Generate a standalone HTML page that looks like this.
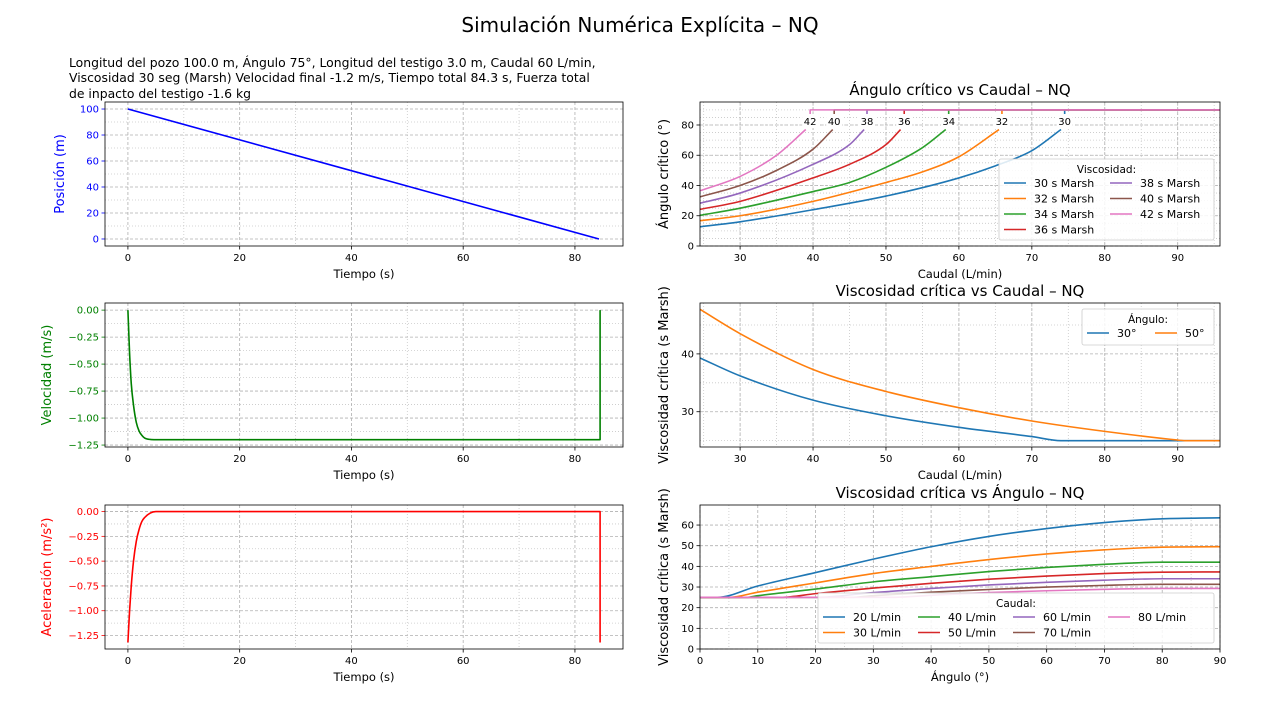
<!DOCTYPE html>
<html><head><meta charset="utf-8">
<style>
html,body{margin:0;padding:0;background:#fff;}
body{width:1280px;height:703px;overflow:hidden;font-family:"DejaVu Sans","Liberation Sans",sans-serif;}
#sub{position:absolute;left:69px;top:55px;font-size:12.4px;line-height:15.3px;color:#000;width:560px;}
#title{position:absolute;left:0;width:1280px;top:13px;text-align:center;font-size:20px;}
svg{position:absolute;left:0;top:0;}
</style></head>
<body>
<div id="title">Simulación Numérica Explícita – NQ</div>
<div id="sub">Longitud del pozo 100.0 m, Ángulo 75°, Longitud del testigo 3.0 m, Caudal 60 L/min,<br>Viscosidad 30 seg (Marsh) Velocidad final -1.2 m/s, Tiempo total 84.3 s, Fuerza total<br>de inpacto del testigo -1.6 kg</div>
<svg id="fig" width="1280" height="703" xmlns="http://www.w3.org/2000/svg"></svg>
<script>
// ---- data ----
const posT = [0, 84.3];
const posV = [100, 0];
const velT = [0, 0.3, 0.6, 1, 1.5, 2, 2.5, 3, 4, 5, 84.5, 84.5];
const velV = [0, -0.4, -0.68, -0.88, -1.04, -1.12, -1.16, -1.185, -1.198, -1.2, -1.2, 0];
const accT = [0, 0.3, 0.6, 1, 1.5, 2, 2.5, 3, 4, 5, 84.5, 84.5];
const accV = [-1.32, -1.0, -0.75, -0.5, -0.3, -0.18, -0.1, -0.06, -0.015, 0, 0, -1.32];

const viscNames = ['30', '32', '34', '36', '38', '40', '42'];
const colors = ['#1f77b4','#ff7f0e','#2ca02c','#d62728','#9467bd','#8c564b','#e377c2'];
const angQ30 = [24.5, 30, 40, 50, 60, 65, 70, 74];
const angV30 = [12.7, 16, 24, 33, 45, 53, 63, 77];
const angQ32 = [24.5, 30, 40, 50, 55, 60, 65.5];
const angV32 = [16.7, 20, 29.5, 42, 49, 59, 77];
const angQ34 = [24.5, 30, 40, 45, 50, 55, 58.2];
const angV34 = [20.3, 25, 36, 42, 52, 65, 77];
const angQ36 = [24.5, 30, 40, 45, 50, 52];
const angV36 = [24.2, 29.5, 45, 54, 67, 77];
const angQ38 = [24.5, 30, 40, 45, 47];
const angV38 = [28.3, 35, 54, 67, 77];
const angQ40 = [24.5, 30, 35, 40, 42.7];
const angV40 = [32.5, 40, 50, 64, 77];
const angQ42 = [24.5, 30, 35, 39];
const angV42 = [36.5, 46, 60, 77];
const critQ = [74.5, 65.9, 58.6, 52.5, 47.4, 42.9, 39.6];

const vqQ = [24.5, 30, 40, 50, 60, 70, 74, 95.8];
const vq30 = [39.3, 36.2, 32, 29.3, 27.3, 25.7, 25, 25];
const vqQ2 = [24.5, 30, 40, 50, 60, 70, 80, 90, 91, 95.8];
const vq50 = [47.7, 43.5, 37.3, 33.5, 30.7, 28.4, 26.6, 25.1, 25, 25];

const caudNames = ['20','30','40','50','60','70','80'];
const angA = [0, 3, 10, 20, 30, 40, 50, 60, 70, 80, 90];
const va20 = [25, 25, 30.5, 37, 43.5, 49.5, 54.5, 58.3, 61.2, 63, 63.5];
const angA30 = [0, 5, 10, 20, 30, 40, 50, 60, 70, 80, 90];
const va30 = [25, 25, 27.5, 32, 36.5, 40, 43.3, 46, 48, 49.3, 49.5];
const angA40 = [0, 8, 10, 20, 30, 40, 50, 60, 70, 80, 90];
const va40 = [25, 25, 25.8, 29, 32.5, 35, 37.5, 39.5, 41, 42, 42];
const angA50 = [0, 14, 20, 30, 40, 50, 60, 70, 80, 90];
const va50 = [25, 25, 26.8, 29.5, 31.8, 33.8, 35.3, 36.5, 37.2, 37.3];
const angA60 = [0, 20, 30, 40, 50, 60, 70, 80, 90];
const va60 = [25, 25, 27.3, 29.3, 31, 32.3, 33.3, 34, 34];
const angA70 = [0, 26, 30, 40, 50, 60, 70, 80, 90];
const va70 = [25, 25, 25.8, 27.5, 28.8, 30, 30.8, 31.3, 31.3];
const angA80 = [0, 33, 40, 50, 60, 70, 80, 90];
const va80 = [25, 25, 26, 27.3, 28.2, 28.9, 29.3, 29.3];

// ---- helpers ----
const NS = 'http://www.w3.org/2000/svg';
const fig = document.getElementById('fig');
function mk(tag, attrs, parent, name, inter) {
  const el = document.createElementNS(NS, tag);
  for (const k in attrs) el.setAttribute(k, attrs[k]);
  
  
  (parent || fig).appendChild(el);
  return el;
}
function txt(s, attrs, parent, name) {
  const el = mk('text', Object.assign({'font-size': 10, fill: '#000'}, attrs), parent, name, false);
  el.textContent = s;
  return el;
}
let clipId = 0;
function axes(o) {
  const g = mk('g', {}, fig, o.name, false);
  const sx = v => o.x + (v - o.xmin) / (o.xmax - o.xmin) * o.w;
  const sy = v => o.y + o.h - (v - o.ymin) / (o.ymax - o.ymin) * o.h;
  (o.xminor || []).forEach(v => mk('line', {x1: sx(v), x2: sx(v), y1: o.y, y2: o.y + o.h, stroke: '#c8c8c8', 'stroke-width': 0.8, 'stroke-dasharray': '1,2'}, g, 'x-minor-grid', false));
  (o.yminor || []).forEach(v => mk('line', {x1: o.x, x2: o.x + o.w, y1: sy(v), y2: sy(v), stroke: '#c8c8c8', 'stroke-width': 0.8, 'stroke-dasharray': '1,2'}, g, 'y-minor-grid', false));
  o.xt.forEach(v => mk('line', {x1: sx(v), x2: sx(v), y1: o.y, y2: o.y + o.h, stroke: '#b0b0b0', 'stroke-width': 0.8, 'stroke-dasharray': '3,2'}, g, 'x-major-grid', false));
  o.yt.forEach(v => mk('line', {x1: o.x, x2: o.x + o.w, y1: sy(v), y2: sy(v), stroke: '#b0b0b0', 'stroke-width': 0.8, 'stroke-dasharray': '3,2'}, g, 'y-major-grid', false));
  const tc = o.tickColor || '#000';
  o.xt.forEach((v, i) => {
    mk('line', {x1: sx(v), x2: sx(v), y1: o.y + o.h, y2: o.y + o.h + 3.5, stroke: '#000', 'stroke-width': 0.8}, g, 'x-tick', false);
    txt(o.xtl ? o.xtl[i] : String(v), {x: sx(v), y: o.y + o.h + 15, 'text-anchor': 'middle'}, g, 'x-tick-label');
  });
  o.yt.forEach((v, i) => {
    mk('line', {x1: o.x - 3.5, x2: o.x, y1: sy(v), y2: sy(v), stroke: tc, 'stroke-width': 0.8}, g, 'y-tick', false);
    txt(o.ytl ? o.ytl[i] : String(v), {x: o.x - 6, y: sy(v) + 3.5, 'text-anchor': 'end', fill: tc}, g, 'y-tick-label');
  });
  const id = 'c' + (clipId++);
  const cp = mk('clipPath', {id: id}, g, 'clip', false);
  mk('rect', {x: o.x, y: o.y, width: o.w, height: o.h}, cp, 'clip-rect', false);
  const plot = mk('g', {'clip-path': 'url(#' + id + ')'}, g, 'plot-area', false);
  mk('rect', {x: o.x, y: o.y, width: o.w, height: o.h, fill: 'none', stroke: '#000', 'stroke-width': 0.8}, g, 'axes-frame', false);
  txt(o.xlabel, {x: o.x + o.w / 2, y: o.y + o.h + 32, 'text-anchor': 'middle', 'font-size': 11.5}, g, 'x-axis-title');
  txt(o.ylabel, {x: 0, y: 0, 'text-anchor': 'middle', 'font-size': 13, fill: o.ylabelColor || '#000', transform: 'translate(' + o.ylx + ',' + (o.y + o.h / 2) + ') rotate(-90)'}, g, 'y-axis-title');
  if (o.title) txt(o.title, {x: o.x + o.w / 2, y: o.y - 7, 'text-anchor': 'middle', 'font-size': 15}, g, 'axes-title');
  return {sx, sy, plot, g};
}
// monotone cubic over x-increasing runs; vertical jumps drawn straight
function monoRun(p) {
  const n = p.length;
  if (n < 2) return '';
  if (n === 2) return 'L' + p[1][0].toFixed(2) + ',' + p[1][1].toFixed(2);
  const d = [], m = [];
  for (let i = 0; i < n - 1; i++) d.push((p[i + 1][1] - p[i][1]) / (p[i + 1][0] - p[i][0]));
  m.push(d[0]);
  for (let i = 1; i < n - 1; i++) m.push(d[i - 1] * d[i] <= 0 ? 0 : (d[i - 1] + d[i]) / 2);
  m.push(d[n - 2]);
  for (let i = 0; i < n - 1; i++) {
    if (d[i] === 0) { m[i] = 0; m[i + 1] = 0; continue; }
    const a = m[i] / d[i], b = m[i + 1] / d[i], s = a * a + b * b;
    if (s > 9) { const t = 3 / Math.sqrt(s); m[i] = t * a * d[i]; m[i + 1] = t * b * d[i]; }
  }
  let out = '';
  for (let i = 0; i < n - 1; i++) {
    const h = (p[i + 1][0] - p[i][0]) / 3;
    out += 'C' + (p[i][0] + h).toFixed(2) + ',' + (p[i][1] + m[i] * h).toFixed(2) + ' ' +
      (p[i + 1][0] - h).toFixed(2) + ',' + (p[i + 1][1] - m[i + 1] * h).toFixed(2) + ' ' +
      p[i + 1][0].toFixed(2) + ',' + p[i + 1][1].toFixed(2);
  }
  return out;
}
function line(ax, xs, ys, color, name) {
  const p = xs.map((v, i) => [ax.sx(v), ax.sy(ys[i])]);
  let d = 'M' + p[0][0].toFixed(2) + ',' + p[0][1].toFixed(2);
  let run = [p[0]];
  for (let i = 1; i < p.length; i++) {
    if (Math.abs(p[i][0] - p[i - 1][0]) < 1e-6) {
      d += monoRun(run);
      d += 'L' + p[i][0].toFixed(2) + ',' + p[i][1].toFixed(2);
      run = [p[i]];
    } else run.push(p[i]);
  }
  d += monoRun(run);
  return mk('path', {d: d, fill: 'none', stroke: color, 'stroke-width': 1.6, 'stroke-linejoin': 'round'}, ax.plot, name, false);
}
function range(a, b, s) { const r = []; for (let v = a; v <= b + 1e-9; v += s) r.push(+v.toFixed(4)); return r; }
function legend(ax, x, y, w, h, title, labels, cols, colw, name) {
  const g = mk('g', {}, ax.g, name, false);
  mk('rect', {x: x, y: y, width: w, height: h, rx: 2, fill: '#fff', 'fill-opacity': 0.85, stroke: '#ccc', 'stroke-width': 0.8}, g, 'legend-box', false);
  txt(title, {x: x + w / 2, y: y + 14, 'text-anchor': 'middle', 'font-size': 10.5}, g, 'legend-title');
  const rows = Math.ceil(labels.length / cols);
  labels.forEach((l, i) => {
    const c = Math.floor(i / rows), r = i % rows;
    const lx = x + 5 + c * colw, ly = y + 28 + r * 15.5;
    mk('line', {x1: lx, x2: lx + 22, y1: ly - 4, y2: ly - 4, stroke: colors[i], 'stroke-width': 1.6}, g, 'legend-swatch', false);
    txt(l, {x: lx + 30, y: ly, 'font-size': 11}, g, 'legend-label');
  });
}

// ---- left column ----
const a1 = axes({name: 'position-chart', x: 105, y: 102, w: 518, h: 144, xmin: -4.1, xmax: 88.6, ymin: -5.4, ymax: 105.4,
  xt: [0,20,40,60,80], yt: [0,20,40,60,80,100], xminor: [10,30,50,70], yminor: [10,30,50,70,90],
  xlabel: 'Tiempo (s)', ylabel: 'Posición (m)', ylabelColor: 'blue', tickColor: 'blue', ylx: 64});
line(a1, posT, posV, 'blue', 'position-line');

const a2 = axes({name: 'velocity-chart', x: 105, y: 303, w: 518, h: 144, xmin: -4.1, xmax: 88.6, ymin: -1.268, ymax: 0.066,
  xt: [0,20,40,60,80], yt: [0,-0.25,-0.5,-0.75,-1,-1.25], ytl: ['0.00','−0.25','−0.50','−0.75','−1.00','−1.25'],
  xminor: [10,30,50,70], yminor: [-0.125,-0.375,-0.625,-0.875,-1.125],
  xlabel: 'Tiempo (s)', ylabel: 'Velocidad (m/s)', ylabelColor: 'green', tickColor: 'green', ylx: 51});
line(a2, velT, velV, 'green', 'velocity-line');

const a3 = axes({name: 'acceleration-chart', x: 105, y: 505, w: 518, h: 144, xmin: -4.1, xmax: 88.6, ymin: -1.386, ymax: 0.066,
  xt: [0,20,40,60,80], yt: [0,-0.25,-0.5,-0.75,-1,-1.25], ytl: ['0.00','−0.25','−0.50','−0.75','−1.00','−1.25'],
  xminor: [10,30,50,70], yminor: [-0.125,-0.375,-0.625,-0.875,-1.125],
  xlabel: 'Tiempo (s)', ylabel: 'Aceleración (m/s²)', ylabelColor: 'red', tickColor: 'red', ylx: 51});
line(a3, accT, accV, 'red', 'acceleration-line');

// ---- right column ----
const r1 = axes({name: 'critical-angle-chart', x: 700, y: 102, w: 520, h: 144, xmin: 24.5, xmax: 95.8, ymin: 0, ymax: 95.2,
  xt: [30,40,50,60,70,80,90], yt: [0,20,40,60,80], xminor: range(25,95,5), yminor: range(5,90,5),
  xlabel: 'Caudal (L/min)', ylabel: 'Ángulo crítico (°)', ylx: 668, title: 'Ángulo crítico vs Caudal – NQ'});
const angQs = [angQ30, angQ32, angQ34, angQ36, angQ38, angQ40, angQ42];
const angVs = [angV30, angV32, angV34, angV36, angV38, angV40, angV42];
viscNames.forEach((n, i) => {
  line(r1, angQs[i], angVs[i], colors[i], 'angle-curve-' + n);
  line(r1, [critQ[i], critQ[i], 95.8], [87, 90, 90], colors[i], 'angle-critical-' + n);
});
viscNames.forEach((n, i) => {
  const bx = r1.sx(critQ[i]);
  const lab = mk('g', {}, r1.g, 'angle-annotation', false);
  mk('rect', {x: bx - 8, y: 114, width: 16, height: 14, fill: '#fff'}, lab, 'annotation-bg', false);
  txt(n, {x: bx, y: 125, 'text-anchor': 'middle'}, lab, 'annotation-label');
});
legend(r1, 999, 159, 215, 81, 'Viscosidad:', viscNames.map(n => n + ' s Marsh'), 2, 106, 'viscosity-legend');

const r2 = axes({name: 'viscosity-vs-flow-chart', x: 700, y: 303, w: 520, h: 144, xmin: 24.5, xmax: 95.8, ymin: 23.9, ymax: 48.8,
  xt: [30,40,50,60,70,80,90], yt: [30,40], xminor: range(25,95,5), yminor: [25,35,45],
  xlabel: 'Caudal (L/min)', ylabel: 'Viscosidad crítica (s Marsh)', ylx: 668, title: 'Viscosidad crítica vs Caudal – NQ'});
line(r2, vqQ, vq30, colors[0], 'viscosity-30deg-line');
line(r2, vqQ2, vq50, colors[1], 'viscosity-50deg-line');
legend(r2, 1082, 309, 132, 36, 'Ángulo:', ['30°', '50°'], 2, 68, 'angle-legend');

const r3 = axes({name: 'viscosity-vs-angle-chart', x: 700, y: 505, w: 520, h: 144, xmin: 0, xmax: 90, ymin: 0, ymax: 69.7,
  xt: [0,10,20,30,40,50,60,70,80,90], yt: [0,10,20,30,40,50,60], xminor: range(5,85,10),
  xlabel: 'Ángulo (°)', ylabel: 'Viscosidad crítica (s Marsh)', ylx: 668, title: 'Viscosidad crítica vs Ángulo – NQ'});
const angAs = [angA, angA30, angA40, angA50, angA60, angA70, angA80];
const vas = [va20, va30, va40, va50, va60, va70, va80];
caudNames.forEach((n, i) => line(r3, angAs[i], vas[i], colors[i], 'viscosity-curve-' + n + 'lpm'));
legend(r3, 818, 593, 396, 50, 'Caudal:', caudNames.map(n => n + ' L/min'), 4, 95, 'flow-legend');
</script>
</body></html>
